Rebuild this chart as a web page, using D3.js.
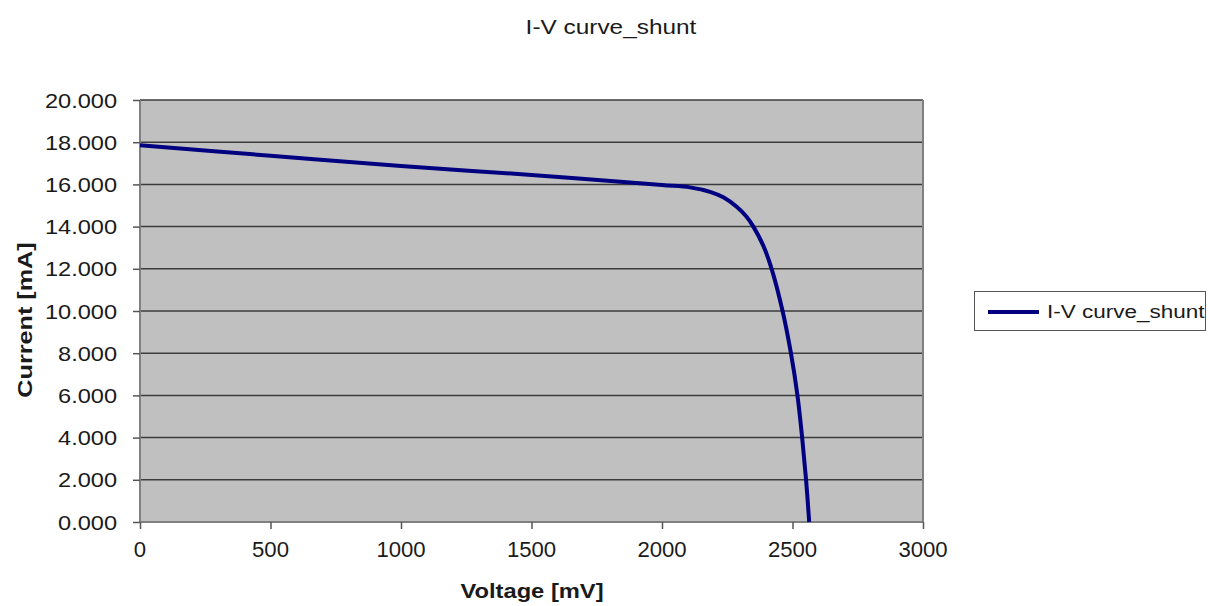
<!DOCTYPE html>
<html>
<head>
<meta charset="utf-8">
<script src="https://cdn.jsdelivr.net/npm/d3@7"></script>
<style>
  body { margin: 0; background: #fff; }
  text { font-family: "Liberation Sans", Arial, sans-serif; fill: #1a1a1a; }
</style>
</head>
<body>
<svg id="chart" width="1208" height="606"></svg>
<script>
// 曲线数据 (mV, mA)
const voltage = [0, 500, 1000, 1500, 2000, 2107, 2184, 2235, 2286, 2324, 2350, 2388, 2420, 2462, 2494, 2519, 2537, 2552, 2564];
const current = [17.85, 17.36, 16.87, 16.45, 15.97, 15.86, 15.65, 15.39, 14.94, 14.47, 14.0, 13.1, 12.0, 10.0, 8.0, 6.0, 4.0, 2.0, 0];
const xTicks = [0, 500, 1000, 1500, 2000, 2500, 3000];
const yTicks = [0, 2, 4, 6, 8, 10, 12, 14, 16, 18, 20];
const seriesName = 'I-V curve_shunt';

const points = voltage.map((v, i) => ({ v, i: current[i] }));

const svg = d3.select('#chart');
const plot = { left: 140, right: 923, top: 100, bottom: 522 };

const x = d3.scaleLinear().domain([0, 3000]).range([plot.left, plot.right]);
const y = d3.scaleLinear().domain([0, 20]).range([plot.bottom, plot.top]);

// 横向拉伸的文字
const addText = (str, px, py, opts = {}) => {
  const g = svg.append('g')
    .attr('transform', `translate(${px},${py}) rotate(${opts.rotate || 0}) scale(${opts.sx || 1},1)`);
  return g.append('text')
    .attr('text-anchor', opts.anchor || 'middle')
    .style('font-size', (opts.size || 20) + 'px')
    .style('font-weight', opts.bold ? 'bold' : 'normal')
    .text(str);
};

// 背景
svg.append('rect')
  .attr('x', plot.left).attr('y', plot.top)
  .attr('width', plot.right - plot.left).attr('height', plot.bottom - plot.top)
  .attr('fill', '#c0c0c0');

// 网格线
svg.append('g')
  .selectAll('line')
  .data(yTicks.filter(d => d > 0))
  .join('line')
  .attr('x1', plot.left).attr('x2', plot.right)
  .attr('y1', d => y(d)).attr('y2', d => y(d))
  .attr('stroke', '#3c3c3c')
  .attr('stroke-width', 1.5);

// 边框
svg.append('path')
  .attr('d', `M${plot.left},${plot.top}V${plot.bottom}H${plot.right}V${plot.top}`)
  .attr('fill', 'none')
  .attr('stroke', '#808080')
  .attr('stroke-width', 2);

// Y 轴
const yAxis = d3.axisLeft(y).tickValues(yTicks).tickSize(7).tickFormat('');
svg.append('g')
  .attr('transform', `translate(${plot.left},0)`)
  .call(yAxis)
  .call(g => g.select('.domain').remove())
  .call(g => g.selectAll('.tick line').attr('stroke', '#555').attr('stroke-width', 1.5));

yTicks.forEach(d => addText(d3.format('.3f')(d), 117, y(d) + 7.5, { anchor: 'end', size: 20.5, sx: 1.15 }));

// X 轴
const xAxis = d3.axisBottom(x).tickValues(xTicks).tickSize(7).tickFormat('');
svg.append('g')
  .attr('transform', `translate(0,${plot.bottom})`)
  .call(xAxis)
  .call(g => g.select('.domain').remove())
  .call(g => g.selectAll('.tick line').attr('stroke', '#555').attr('stroke-width', 1.5));

xTicks.forEach(d => addText(String(d), x(d), 557, { size: 21.5, sx: 1.03 }));

// 曲线
const line = d3.line()
  .x(d => x(d.v))
  .y(d => y(d.i))
  .curve(d3.curveCatmullRom.alpha(0.5));

svg.append('path')
  .datum(points)
  .attr('d', line)
  .attr('fill', 'none')
  .attr('stroke', '#000080')
  .attr('stroke-width', 4);

// 标题
addText(seriesName, 611, 34, { size: 20, sx: 1.22 });
addText('Voltage [mV]', 532, 598, { size: 21, sx: 1.13, bold: true });
addText('Current [mA]', 32, 320, { size: 21, sx: 1.2, bold: true, rotate: -90 });

// 图例
svg.append('rect')
  .attr('x', 974.5).attr('y', 291.5)
  .attr('width', 231).attr('height', 39)
  .attr('fill', '#fff')
  .attr('stroke', '#555');
svg.append('line')
  .attr('x1', 988).attr('x2', 1039)
  .attr('y1', 312).attr('y2', 312)
  .attr('stroke', '#000080')
  .attr('stroke-width', 4);
addText(seriesName, 1047, 318, { anchor: 'start', size: 18, sx: 1.25 });
</script>
</body>
</html>
